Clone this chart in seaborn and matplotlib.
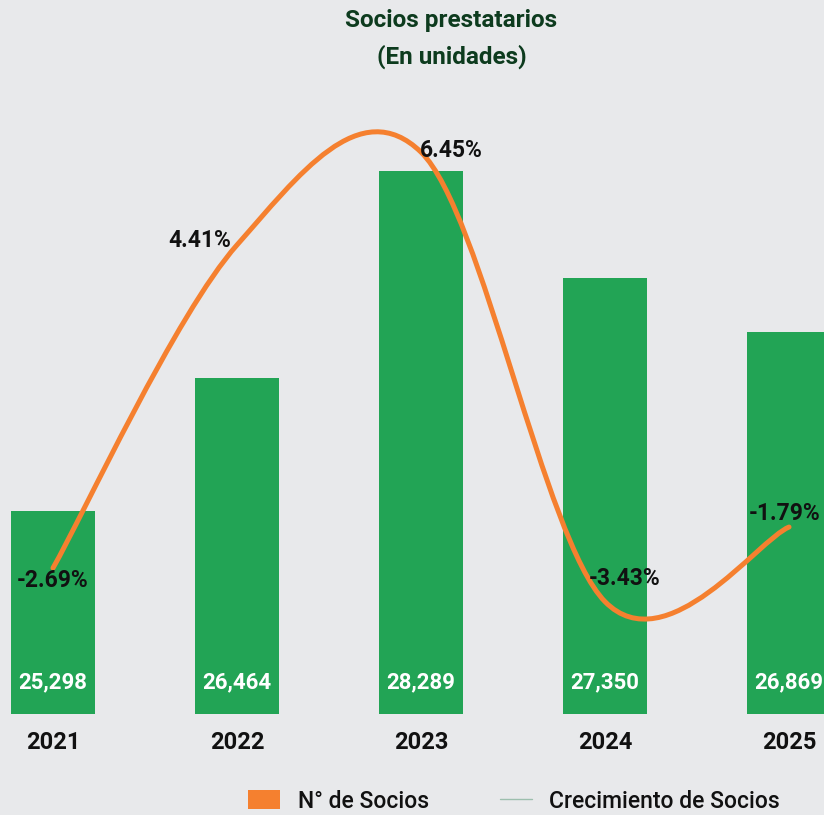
import numpy as np
import pandas as pd
import matplotlib
matplotlib.use('Agg')
import matplotlib.pyplot as plt
from matplotlib.path import Path
from matplotlib.patches import PathPatch, Patch
from matplotlib.lines import Line2D
import seaborn as sns

anios = ['2021', '2022', '2023', '2024', '2025']
socios = [25298, 26464, 28289, 27350, 26869]
crecimiento = [-2.69, 4.41, 6.45, -3.43, -1.79]

VERDE = '#22A455'
NARANJA = '#F5802F'
FONDO = '#E8E9EB'
TITULO = '#0D3B1E'

sns.set_style('white')
plt.rcParams['font.family'] = ['Roboto', 'DejaVu Sans']

df = pd.DataFrame({'anio': anios, 'socios': socios})

fig = plt.figure(figsize=(8.24, 8.15), dpi=100)
fig.patch.set_facecolor(FONDO)
ax = fig.add_axes([0, 101 / 815, 1, 614 / 815])
ax.set_facecolor(FONDO)

sns.barplot(data=df, x='anio', y='socios', order=anios, color=VERDE,
            width=0.457, saturation=1, linewidth=0, edgecolor=VERDE, ax=ax)
ax.set_xlim(-0.288, 4.19)
ax.set_ylim(23512, 28914)
ax.set_xlabel('')
ax.set_ylabel('')
ax.set_yticks([])
ax.tick_params(axis='x', length=0, pad=12, labelsize=17)
for lab in ax.get_xticklabels():
    lab.set_fontweight('bold')
    lab.set_color('#111111')
for s in ax.spines.values():
    s.set_visible(False)

# etiquetas de valor dentro de las barras
for i, v in enumerate(socios):
    ax.annotate(f'{v:,}', (i, 23512), xytext=(0, 23), textcoords='offset points',
                ha='center', va='center', color='white', fontsize=16,
                fontweight='bold')

# eje secundario: crecimiento
ax2 = ax.twinx()
ax2.set_ylim(-5.899, 7.596)
ax2.set_yticks([])
for s in ax2.spines.values():
    s.set_visible(False)

# linea suavizada (bezier tipo catmull-rom entre los puntos)
xs = np.arange(len(crecimiento), dtype=float)
pts = np.column_stack([xs, crecimiento])
verts = [tuple(pts[0])]
codes = [Path.MOVETO]
n = len(pts)
for i in range(n - 1):
    p_prev = pts[max(i - 1, 0)]
    p0, p1 = pts[i], pts[i + 1]
    p_next = pts[min(i + 2, n - 1)]
    c1 = p0 + (p1 - p_prev) / 6
    c2 = p1 - (p_next - p0) / 6
    verts += [tuple(c1), tuple(c2), tuple(p1)]
    codes += [Path.CURVE4] * 3
curva = PathPatch(Path(verts, codes), fill=False, edgecolor=NARANJA, lw=3.6,
                  capstyle='round', joinstyle='round')
ax2.add_patch(curva)

offsets = [(0, -9), (-27, 3), (22, 1.5), (14, 17), (-3, 10)]
for i, (p, off) in enumerate(zip(crecimiento, offsets)):
    ax2.annotate(f'{p:.2f}%', (i, p), xytext=off, textcoords='offset points',
                 ha='center', va='center', fontsize=16.5, fontweight='bold',
                 color='#111111')

fig.text(0.548, 1 - 20 / 815, 'Socios prestatarios', ha='center', va='center',
         fontsize=17.5, fontweight='bold', color=TITULO)
fig.text(0.548, 1 - 57 / 815, '(En unidades)', ha='center', va='center',
         fontsize=17.5, fontweight='bold', color=TITULO)

handles = [Patch(facecolor=NARANJA, edgecolor='none'),
           Line2D([0], [0], color='#9DBFAE', lw=1)]
leg = fig.legend(handles, ['N° de Socios', 'Crecimiento de Socios'],
                 loc='center', bbox_to_anchor=(514 / 824, 1 - 801 / 815),
                 ncol=2, frameon=False, fontsize=16.5, handlelength=1.4,
                 handleheight=0.85, columnspacing=3.1, handletextpad=0.75)
for t in leg.get_texts():
    t.set_fontweight('medium')
    t.set_color('#111111')

fig.savefig('out.png', dpi=100, facecolor=FONDO)
